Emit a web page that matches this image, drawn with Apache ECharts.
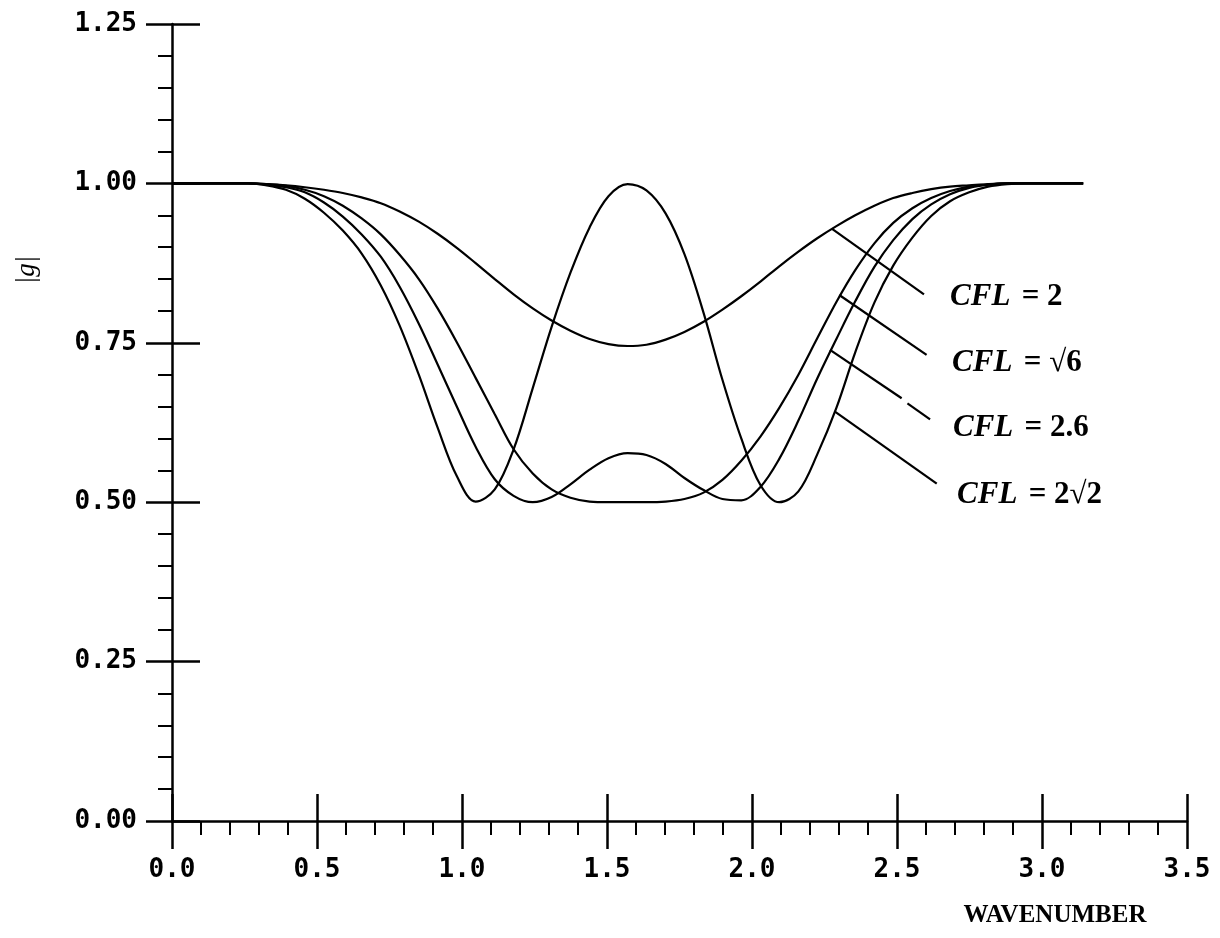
<!DOCTYPE html>
<html>
<head>
<meta charset="UTF-8">
<title>|g| vs wavenumber</title>
<script src="https://cdn.jsdelivr.net/npm/echarts@6/dist/echarts.min.js"></script>
</head>
<body style="margin:0;background:#fff;">
	<div id="main" style="width: 1220px;height:938px;"></div>
	<script type="text/javascript">
	// wavenumber grid, 0 .. pi
	var waveNumber = [0.000, 0.065, 0.131, 0.196, 0.262, 0.327, 0.393, 0.458, 0.524, 0.589,
		0.654, 0.720, 0.785, 0.851, 0.916, 0.982, 1.047, 1.113, 1.178, 1.244,
		1.309, 1.374, 1.440, 1.505, 1.571, 1.636, 1.702, 1.767, 1.833, 1.898,
		1.963, 2.029, 2.094, 2.160, 2.225, 2.291, 2.356, 2.422, 2.487, 2.553,
		2.618, 2.683, 2.749, 2.814, 2.880, 2.945, 3.011, 3.076, 3.142];

	// |g|
	var gCfl2 = [1.000, 1.000, 1.000, 1.000, 1.000, 0.999, 0.997, 0.994, 0.990, 0.985,
		0.978, 0.969, 0.956, 0.940, 0.921, 0.899, 0.875, 0.850, 0.826, 0.804,
		0.785, 0.769, 0.756, 0.748, 0.745, 0.747, 0.755, 0.767, 0.783, 0.802,
		0.823, 0.846, 0.870, 0.893, 0.914, 0.933, 0.950, 0.965, 0.977, 0.985,
		0.991, 0.995, 0.997, 0.999, 1.000, 1.000, 1.000, 1.000, 1.000];
	var gCflSqrt6 = [1.000, 1.000, 1.000, 1.000, 1.000, 0.999, 0.996, 0.990, 0.980, 0.965,
		0.945, 0.920, 0.888, 0.850, 0.804, 0.751, 0.695, 0.638, 0.583, 0.545,
		0.520, 0.507, 0.501, 0.500, 0.500, 0.500, 0.501, 0.505, 0.515, 0.535,
		0.565, 0.603, 0.648, 0.700, 0.757, 0.814, 0.864, 0.906, 0.938, 0.961,
		0.977, 0.988, 0.995, 0.998, 1.000, 1.000, 1.000, 1.000, 1.000];
	var gCfl26 = [1.000, 1.000, 1.000, 1.000, 1.000, 0.998, 0.994, 0.986, 0.970, 0.948,
		0.920, 0.885, 0.838, 0.780, 0.716, 0.650, 0.587, 0.536, 0.510, 0.500,
		0.508, 0.528, 0.551, 0.569, 0.577, 0.574, 0.560, 0.538, 0.519, 0.505,
		0.503, 0.524, 0.568, 0.628, 0.694, 0.756, 0.815, 0.869, 0.911, 0.944,
		0.967, 0.983, 0.993, 0.998, 1.000, 1.000, 1.000, 1.000, 1.000];
	var gCfl2Sqrt2 = [1.000, 1.000, 1.000, 1.000, 1.000, 0.997, 0.990, 0.976, 0.954, 0.926,
		0.890, 0.840, 0.777, 0.700, 0.617, 0.541, 0.501, 0.520, 0.583, 0.679,
		0.775, 0.860, 0.931, 0.980, 0.999, 0.989, 0.953, 0.889, 0.797, 0.692,
		0.600, 0.527, 0.500, 0.517, 0.575, 0.648, 0.735, 0.813, 0.871, 0.915,
		0.949, 0.972, 0.986, 0.995, 0.999, 1.000, 1.000, 1.000, 1.000];

	var xTicks = [0, 3.5, 0.5];      // min, max, step
	var yTicks = [0, 1.25, 0.25];

	// curve labels: text, leader start (on curve), leader end, text anchor
	var noteText = [['CFL', '= 2'], ['CFL', '= √6'], ['CFL', '= 2.6'], ['CFL', '= 2√2']];
	var noteFrom = [[2.275, 0.929], [2.301, 0.825], [2.269, 0.739], [2.286, 0.642]];
	var noteTo = [[2.593, 0.826], [2.602, 0.731], [2.614, 0.630], [2.637, 0.529]];
	var noteAt = [[2.683, 0.822], [2.690, 0.718], [2.693, 0.616], [2.707, 0.511]];
	// small break in the third leader
	var noteGap = [2, [2.516, 0.663], [2.536, 0.655]];

	var chartDom = document.getElementById('main');
	var myChart = echarts.init(chartDom);

	function pairs(ys) {
		var out = [];
		for (var i = 0; i < waveNumber.length; i++) out.push([waveNumber[i], ys[i]]);
		return out;
	}

	var ink = '#000';
	var tickFont = {color: ink, fontFamily: 'DejaVu Sans Mono', fontWeight: 'bold', fontSize: 26};

	function xAxisOf(inside) {
		return {
			type: 'value', min: xTicks[0], max: xTicks[1], interval: xTicks[2],
			position: 'bottom',
			axisLine: {show: !inside, onZero: false, lineStyle: {color: ink, width: 2.5}},
			axisTick: {show: true, inside: inside, length: inside ? 27 : 28, lineStyle: {color: ink, width: 2.5}},
			minorTick: {show: !inside, splitNumber: 5, length: 14, lineStyle: {color: ink, width: 2}},
			axisLabel: inside ? {show: false} : Object.assign({margin: 36, formatter: function (v) { return v.toFixed(1); }}, tickFont),
			splitLine: {show: false}
		};
	}
	function yAxisOf(inside) {
		return {
			type: 'value', min: yTicks[0], max: yTicks[1], interval: yTicks[2],
			position: 'left',
			axisLine: {show: !inside, onZero: false, lineStyle: {color: ink, width: 2.5}},
			axisTick: {show: true, inside: inside, length: inside ? 28 : 26, lineStyle: {color: ink, width: 2.5}},
			minorTick: {show: !inside, splitNumber: 5, length: 14, lineStyle: {color: ink, width: 2}},
			axisLabel: inside ? {show: false} : Object.assign({margin: 35, formatter: function (v) { return v.toFixed(2); }}, tickFont),
			splitLine: {show: false}
		};
	}

	var series = [];
	[gCfl2, gCflSqrt6, gCfl26, gCfl2Sqrt2].forEach(function (ys, i) {
		series.push({
			name: 'CFL ' + noteText[i][1], type: 'line', data: pairs(ys),
			showSymbol: false, smooth: 0.35, silent: true,
			lineStyle: {color: ink, width: 2.2}
		});
	});
	noteFrom.forEach(function (p, i) {
		var segs = i === noteGap[0] ? [[p, noteGap[1]], [noteGap[2], noteTo[i]]] : [[p, noteTo[i]]];
		segs.forEach(function (s) {
			series.push({
				type: 'line', data: s, showSymbol: false, silent: true,
				lineStyle: {color: ink, width: 2.2}
			});
		});
	});

	myChart.setOption({
		animation: false,
		backgroundColor: '#fff',
		grid: {left: 172, right: 33, top: 24, bottom: 117},
		xAxis: [xAxisOf(false), xAxisOf(true)],
		yAxis: [yAxisOf(false), yAxisOf(true)],
		series: series
	});

	// texts: axis names and curve labels (anchored through the grid's scales)
	var serif = {fontFamily: 'Liberation Serif', fontWeight: 'bold', fontSize: 31, fill: ink};
	var graphics = [
		{type: 'text', x: 27, y: 270, rotation: Math.PI / 2,
			style: {text: '|g|', fontFamily: 'Liberation Serif', fontStyle: 'italic', fontSize: 27, fill: ink, align: 'center', verticalAlign: 'middle'}},
		{type: 'text', x: 1055, y: 916,
			style: {text: 'WAVENUMBER', fontFamily: 'Liberation Serif', fontWeight: 'bold', fontSize: 25, fill: ink, align: 'center', verticalAlign: 'middle'}}
	];
	noteAt.forEach(function (p, i) {
		var px = myChart.convertToPixel({gridIndex: 0}, p);
		graphics.push({
			type: 'text', x: px[0], y: px[1], silent: true,
			style: {
				text: '{c|' + noteText[i][0] + '} {r|' + noteText[i][1] + '}',
				align: 'left', verticalAlign: 'middle',
				rich: {
					c: Object.assign({fontStyle: 'italic', padding: [0, 8, 0, 0]}, serif),
					r: Object.assign({}, serif)
				}
			}
		});
	});
	myChart.setOption({graphic: graphics});
	</script>
</body>
</html>
